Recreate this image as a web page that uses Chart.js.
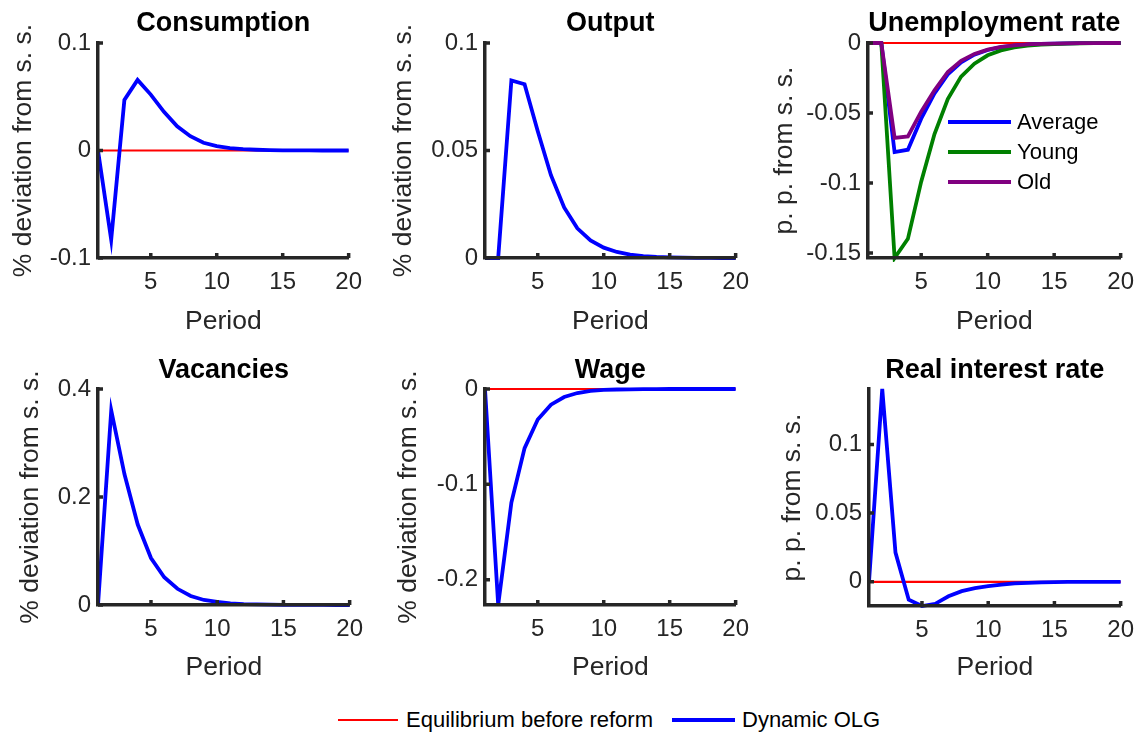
<!DOCTYPE html>
<html>
<head>
<meta charset="utf-8">
<script src="https://cdn.jsdelivr.net/npm/chart.js@4.4.1/dist/chart.umd.min.js"></script>
<style>
html,body{margin:0;padding:0;background:#fff;width:1144px;height:735px;overflow:hidden;position:relative;font-family:"Liberation Sans",Arial,Helvetica,sans-serif;}
canvas{position:absolute;}
.legtxt{position:absolute;font-size:22px;color:#000;line-height:22px;white-space:nowrap;}
.sw{position:absolute;}
</style>
</head>
<body>
<canvas id="c1"></canvas>
<canvas id="c2"></canvas>
<canvas id="c3"></canvas>
<canvas id="c4"></canvas>
<canvas id="c5"></canvas>
<canvas id="c6"></canvas>
<div id="legends"></div>
<script>
// ---------------- DATA ----------------
const periods = [1,2,3,4,5,6,7,8,9,10,11,12,13,14,15,16,17,18,19,20];
const xTickValues = [5,10,15,20];

const equilibrium = [0,0,0,0,0,0,0,0,0,0,0,0,0,0,0,0,0,0,0,0];

const consumption = [0,-0.083,0.047,0.0657,0.052,0.036,0.0225,0.0133,0.0072,0.004,0.0022,0.0012,0.0007,0.0004,0.0002,0.0001,0.0001,0,0,0];
const output      = [0,0,0.0826,0.0808,0.059,0.0385,0.0235,0.0138,0.0082,0.0048,0.0028,0.0016,0.0009,0.0005,0.0003,0.0002,0.0001,0.0001,0,0];
const unempAverage= [0,0,-0.0779,-0.0762,-0.054,-0.036,-0.0224,-0.0138,-0.0083,-0.005,-0.003,-0.0018,-0.0011,-0.0007,-0.0004,-0.0002,-0.0001,-0.0001,0,0];
const unempYoung  = [0,0,-0.1535,-0.1398,-0.099,-0.065,-0.040,-0.024,-0.0148,-0.0088,-0.0053,-0.0032,-0.0019,-0.0011,-0.0007,-0.0004,-0.0002,-0.0001,-0.0001,0];
const unempOld    = [0,0,-0.0677,-0.0667,-0.049,-0.0338,-0.0207,-0.0128,-0.0078,-0.0047,-0.0028,-0.0017,-0.001,-0.0006,-0.0004,-0.0002,-0.0001,-0.0001,0,0];
const vacancies   = [0,0.3604,0.242,0.149,0.087,0.0513,0.030,0.0167,0.0093,0.0056,0.0032,0.0018,0.001,0.0006,0.0003,0.0002,0.0001,0.0001,0,0];
const wage        = [0,-0.2265,-0.119,-0.062,-0.032,-0.0164,-0.0084,-0.0042,-0.002,-0.001,-0.0005,-0.0003,-0.0001,-0.0001,0,0,0,0,0,0];
const interest    = [0,0.1403,0.0213,-0.013,-0.0176,-0.016,-0.0105,-0.0068,-0.0046,-0.0032,-0.002,-0.0012,-0.0007,-0.0004,-0.0002,-0.0001,-0.0001,0,0,0];

const titles = ['Consumption','Output','Unemployment rate','Vacancies','Wage','Real interest rate'];
const yLabels = ['% deviation from s. s.','% deviation from s. s.','p. p. from s. s.','% deviation from s. s.','% deviation from s. s.','p. p. from s. s.'];
const xLabel = 'Period';

const consumptionYTicks = [-0.1,0,0.1];
const outputYTicks = [0,0.05,0.1];
const unempYTicks = [-0.15,-0.1,-0.05,0];
const vacanciesYTicks = [0,0.2,0.4];
const wageYTicks = [-0.2,-0.1,0];
const interestYTicks = [0,0.05,0.1];

const consumptionYTickLabels = ['-0.1','0','0.1'];
const outputYTickLabels = ['0','0.05','0.1'];
const unempYTickLabels = ['-0.15','-0.1','-0.05','0'];
const vacanciesYTickLabels = ['0','0.2','0.4'];
const wageYTickLabels = ['-0.2','-0.1','0'];
const interestYTickLabels = ['0','0.05','0.1'];

const yRanges = [[-0.1,0.1],[0,0.1],[-0.1535,0],[0,0.4],[-0.2265,0],[-0.0176,0.1403]];

const seriesNames = ['Equilibrium before reform','Dynamic OLG','Average','Young','Old'];

// ---------------- STYLE / LAYOUT ----------------
const RED = '#ff0000', BLUE = '#0000ff', GREEN = '#008000', PURPLE = '#800080';
const AXIS = '#262626';
const FONT = '"Liberation Sans", Arial, Helvetica, sans-serif';
Chart.defaults.font.family = FONT;
Chart.defaults.color = AXIS;

// canvas geometry: left, top, width, height, y-axis width, x-axis height, right pad, title pad top/bottom
const geom = [
  {l:8,   t:0,   w:364, h:338, ya:90, xa:80, pr:20, tpt:7.8,  tpb:2.8},
  {l:388, t:0,   w:371, h:338, ya:97, xa:80, pr:20, tpt:7.8,  tpb:2.8},
  {l:769, t:0,   w:375, h:338, ya:99, xa:80, pr:18, tpt:7.8,  tpb:2.8},
  {l:15,  t:340, w:358, h:344, ya:83, xa:79, pr:20, tpt:14.8, tpb:1.8},
  {l:393, t:340, w:366, h:344, ya:92, xa:79, pr:20, tpt:14.8, tpb:1.8},
  {l:777, t:340, w:367, h:344, ya:92, xa:78, pr:18, tpt:14.8, tpb:1.8}
];

function xy(vals){ return periods.map((p,i)=>({x:p, y:vals[i]})); }

const innerTicks = {
  id:'innerTicks',
  afterDraw(chart){
    const {ctx, chartArea:a, scales:{x,y}} = chart;
    ctx.save();
    ctx.strokeStyle = AXIS; ctx.lineWidth = 3.5; ctx.lineCap = 'butt';
    ctx.beginPath();
    x.ticks.forEach(t=>{ const px = x.getPixelForValue(t.value); ctx.moveTo(px, a.bottom); ctx.lineTo(px, a.bottom-5); });
    y.ticks.forEach(t=>{ const py = y.getPixelForValue(t.value); ctx.moveTo(a.left, py); ctx.lineTo(a.left+5, py); });
    ctx.stroke();
    ctx.restore();
  }
};

function makePanel(idx, datasets, yTicks, yTickLabels){
  const g = geom[idx];
  const cv = document.getElementById('c'+(idx+1));
  cv.width = g.w; cv.height = g.h;
  cv.style.left = g.l+'px'; cv.style.top = g.t+'px';
  cv.style.width = g.w+'px'; cv.style.height = g.h+'px';
  const n = datasets.length;
  return new Chart(cv, {
    type:'line',
    data:{ datasets: datasets.map((d,i)=>({
      label:d.label, data:xy(d.values), borderColor:d.color, backgroundColor:d.color,
      borderWidth:d.width, pointRadius:0, pointHoverRadius:0, tension:0, fill:false, clip:4,
      order:n-i
    }))},
    options:{
      responsive:false, animation:false, devicePixelRatio:1,
      layout:{padding:{left:0, top:0, right:g.pr, bottom:0}},
      plugins:{
        legend:{display:false}, tooltip:{enabled:false},
        title:{display:true, text:titles[idx], color:'#000', fullSize:false,
          font:{size:27, weight:'bold', family:FONT, lineHeight:1.2},
          padding:{top:g.tpt, bottom:g.tpb}}
      },
      scales:{
        x:{type:'linear', min:1, max:20,
          grid:{display:false, drawTicks:false},
          border:{display:true, color:AXIS, width:3.5, z:1},
          ticks:{color:AXIS, padding:10, font:{size:24, family:FONT}, maxRotation:0, autoSkip:false,
            callback:(v)=>String(v)},
          afterBuildTicks:(s)=>{ s.ticks = xTickValues.map(v=>({value:v})); },
          afterFit:(s)=>{ s.height = g.xa; },
          title:{display:true, text:xLabel, color:AXIS, font:{size:26.5, family:FONT, lineHeight:1.2}, padding:{top:0,bottom:0}}
        },
        y:{type:'linear', min:yRanges[idx][0], max:yRanges[idx][1],
          grid:{display:false, drawTicks:false},
          border:{display:true, color:AXIS, width:3.5, z:1},
          ticks:{color:AXIS, padding:7, font:{size:24, family:FONT}, autoSkip:false,
            callback:(v,i)=>yTickLabels[i]},
          afterBuildTicks:(s)=>{ s.ticks = yTicks.map(v=>({value:v})); },
          afterFit:(s)=>{ s.width = g.ya; },
          title:{display:true, text:yLabels[idx], color:AXIS, font:{size:26.5, family:FONT, lineHeight:1.2}, padding:{top:0,bottom:0}}
        }
      }
    },
    plugins:[innerTicks]
  });
}

const eq = {label:seriesNames[0], values:equilibrium, color:RED, width:2.2};
const olg = v => ({label:seriesNames[1], values:v, color:BLUE, width:3.8});

makePanel(0, [eq, olg(consumption)], consumptionYTicks, consumptionYTickLabels);
makePanel(1, [eq, olg(output)], outputYTicks, outputYTickLabels);
makePanel(2, [eq,
  {label:seriesNames[2], values:unempAverage, color:BLUE, width:3.8},
  {label:seriesNames[3], values:unempYoung, color:GREEN, width:3.8},
  {label:seriesNames[4], values:unempOld, color:PURPLE, width:3.8}], unempYTicks, unempYTickLabels);
makePanel(3, [eq, olg(vacancies)], vacanciesYTicks, vacanciesYTickLabels);
makePanel(4, [eq, olg(wage)], wageYTicks, wageYTickLabels);
makePanel(5, [eq, olg(interest)], interestYTicks, interestYTickLabels);

// ---------------- LEGENDS (HTML) ----------------
const legendHost = document.getElementById('legends');
function addEntry(x1, x2, y, color, thick, text, tx){
  const s = document.createElement('div');
  s.className = 'sw';
  s.style.left = x1+'px'; s.style.width = (x2-x1)+'px';
  s.style.top = (y - thick/2)+'px'; s.style.height = thick+'px';
  s.style.background = color;
  legendHost.appendChild(s);
  const t = document.createElement('div');
  t.className = 'legtxt';
  t.style.left = tx+'px'; t.style.top = (y-11)+'px';
  t.textContent = text;
  legendHost.appendChild(t);
}
// legend inside the unemployment panel
addEntry(948, 1011, 122, BLUE, 4, seriesNames[2], 1017);
addEntry(948, 1011, 152, GREEN, 4, seriesNames[3], 1017);
addEntry(948, 1011, 182, PURPLE, 4, seriesNames[4], 1017);
// figure legend at the bottom
addEntry(338, 398, 720, RED, 2.5, seriesNames[0], 406);
addEntry(672, 735, 720, BLUE, 4, seriesNames[1], 742);
</script>
</body>
</html>
